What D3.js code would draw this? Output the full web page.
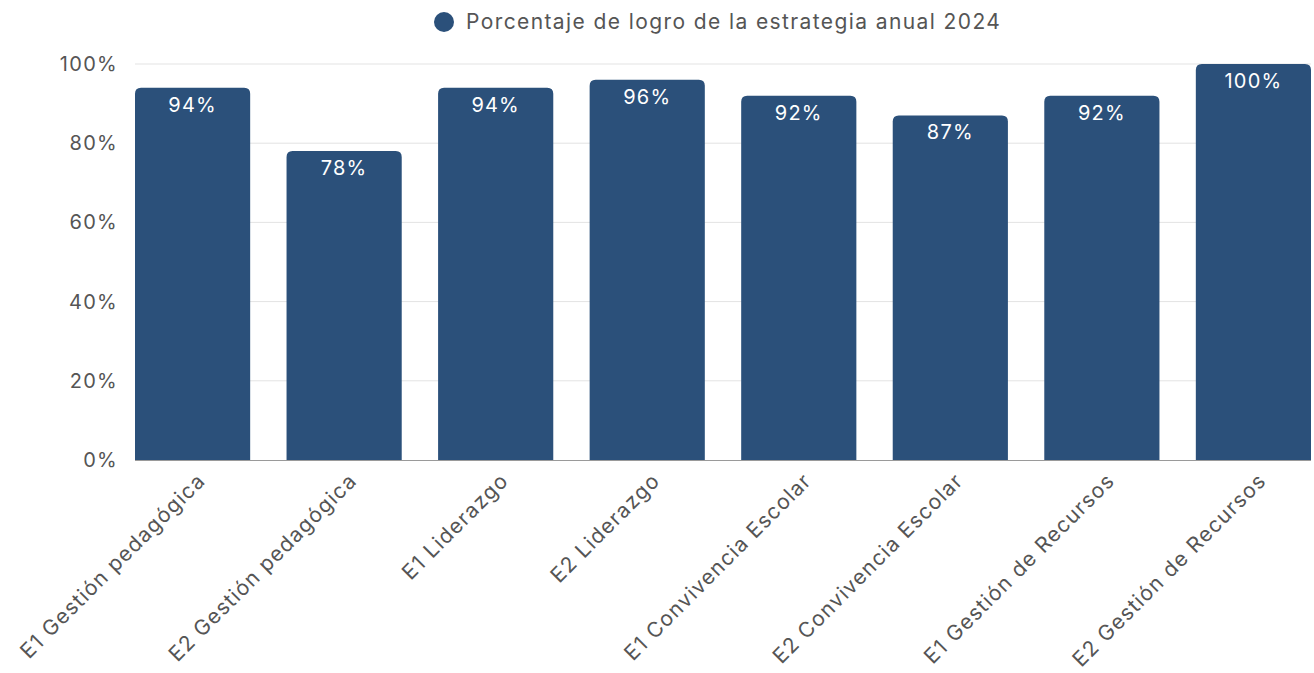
<!DOCTYPE html>
<html><head><meta charset="utf-8">
<script src="https://cdn.jsdelivr.net/npm/d3@7"></script>
<style>body{margin:0;background:#fff}svg{display:block}text{font-family:Inter,"Noto Sans",sans-serif}</style>
</head><body><svg id="c" width="1314" height="673"></svg>
<script>
const categories = ["E1 Gestión pedagógica","E2 Gestión pedagógica","E1 Liderazgo","E2 Liderazgo","E1 Convivencia Escolar","E2 Convivencia Escolar","E1 Gestión de Recursos","E2 Gestión de Recursos"];
const values = [94,78,94,96,92,87,92,100];
const yTicks = [0,20,40,60,80,100];
const seriesName = "Porcentaje de logro de la estrategia anual 2024";

const svg = d3.select("#c");
const color = "#2b507a";
const x = d3.scaleBand().domain(categories).range([135,1311]).paddingInner(0.24).paddingOuter(0);
const y = d3.scaleLinear().domain([0,100]).range([460,64]);

// grid
svg.append("g").selectAll("line").data(yTicks.filter(d=>d>0)).join("line")
  .attr("x1",135).attr("x2",1311).attr("y1",d=>y(d)).attr("y2",d=>y(d))
  .attr("stroke","#e3e3e3").attr("stroke-width",1);

// y axis labels
const ya = svg.append("g").attr("transform","translate(118,0)")
  .call(d3.axisLeft(y).tickValues(yTicks).tickFormat(d=>d+"%").tickSize(0).tickPadding(0));
ya.select(".domain").remove();
ya.selectAll("text").attr("font-size",20).attr("fill","#555").attr("font-family","Inter,sans-serif")
  .attr("letter-spacing","1.3px");

// bars with rounded top
const r = 6;
svg.append("g").selectAll("path").data(categories).join("path")
  .attr("fill",color)
  .attr("d",(c,i)=>{
    const x0=x(c), w=x.bandwidth(), y0=y(values[i]), yb=y(0);
    return `M${x0},${yb}V${y0+r}Q${x0},${y0} ${x0+r},${y0}H${x0+w-r}Q${x0+w},${y0} ${x0+w},${y0+r}V${yb}Z`;
  });

// bottom axis line
svg.append("line").attr("x1",135).attr("x2",1311).attr("y1",460.5).attr("y2",460.5).attr("stroke","#9a9a9a").attr("stroke-width",1);

// value labels
svg.append("g").selectAll("text").data(categories).join("text")
  .attr("x",c=>x(c)+x.bandwidth()/2).attr("y",(c,i)=>y(values[i])+24)
  .attr("text-anchor","middle").attr("fill","#fff").attr("font-size",20)
  .attr("letter-spacing","1.2px")
  .text((c,i)=>values[i]+"%");

// x axis labels
const xa = svg.append("g").attr("transform","translate(0,460)")
  .call(d3.axisBottom(x).tickSize(0).tickPadding(0));
xa.select(".domain").remove();
xa.selectAll("text").attr("font-size",21).attr("fill","#555").attr("font-family","Inter,sans-serif")
  .attr("letter-spacing","1.2px")
  .attr("text-anchor","end").attr("dy",null).attr("y",0)
  .attr("transform","translate(14,22) rotate(-45)");

// legend
const lg = svg.append("g");
lg.append("circle").attr("cx",444).attr("cy",22).attr("r",10).attr("fill",color);
lg.append("text").attr("x",466).attr("y",29).attr("font-size",21).attr("fill","#555")
  .attr("letter-spacing","1.4px").text(seriesName);
</script></body></html>
